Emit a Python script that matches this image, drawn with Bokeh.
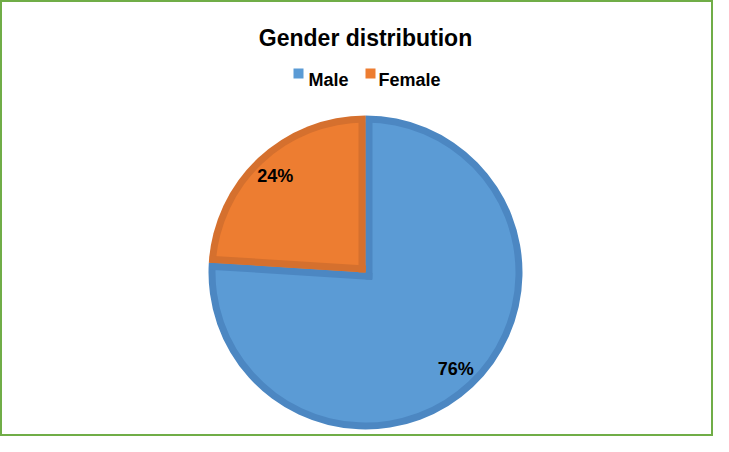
import math
from bokeh.plotting import figure
from bokeh.models import Range1d, ColumnDataSource
from bokeh.core.properties import value
from bokeh.embed import file_html
from bokeh.resources import INLINE

# ---- data ----
title_text = "Gender distribution"
categories = ["Male", "Female"]
values = [76, 24]
fill_colors = ["#5B9BD5", "#ED7D31"]
edge_colors = ["#4C87C2", "#D5702E"]

# ---- layout ----
W, H = 713, 436
FONT = value("Liberation Sans")


def X(rx):
    return rx


def Y(ry):
    return H - ry


p = figure(width=W, height=H, x_range=Range1d(0, W), y_range=Range1d(0, H),
           output_backend="svg", toolbar_location=None, min_border=0,
           x_axis_location=None, y_axis_location=None, title=None)
p.grid.visible = False
p.background_fill_color = "white"
p.border_fill_color = "white"
p.outline_line_color = "#70AD47"
p.outline_line_width = 3

# pie geometry (border drawn inside each slice)
cx, cy = X(365), Y(272)
R = 157
bw = 7
label_r = 132

total = sum(values)
cum = 0
starts, ends, lx, ly, labels = [], [], [], [], []
sx0, sy0, sx1, sy1, scol = [], [], [], [], []
for v, ec in zip(values, edge_colors):
    s = math.pi / 2 - 2 * math.pi * cum / total
    e = math.pi / 2 - 2 * math.pi * (cum + v) / total
    mid = (s + e) / 2
    span = s - e
    starts.append(s)
    ends.append(e)
    lx.append(cx + label_r * math.cos(mid))
    ly.append(cy + label_r * math.sin(mid))
    labels.append(f"{round(100 * v / total)}%")
    ext = bw if span > math.pi else 0
    L = math.sqrt(R * R - bw * bw) - 0.5
    # edge at angle s: slice lies clockwise of it -> inward normal = angle s - 90deg
    # edge at angle e: slice lies counterclockwise -> inward normal = angle e + 90deg
    for ang, nrm in ((s, s - math.pi / 2), (e, e + math.pi / 2)):
        ox = cx + (bw / 2) * math.cos(nrm)
        oy = cy + (bw / 2) * math.sin(nrm)
        sx0.append(ox - ext * math.cos(ang))
        sy0.append(oy - ext * math.sin(ang))
        sx1.append(ox + L * math.cos(ang))
        sy1.append(oy + L * math.sin(ang))
        scol.append(ec)
    cum += v

src = ColumnDataSource(dict(start=starts, end=ends, fill=fill_colors,
                            edge=edge_colors, lx=lx, ly=ly, label=labels,
                            cat=categories))

# outer wedge in border colour
p.wedge(x=cx, y=cy, radius=R, start_angle="start", end_angle="end",
        direction="clock", fill_color="edge", line_color=None, source=src)
# inner fill
p.wedge(x=cx, y=cy, radius=R - bw, start_angle="start", end_angle="end",
        direction="clock", fill_color="fill", line_color=None, source=src)
# radial borders
p.segment(x0=sx0, y0=sy0, x1=sx1, y1=sy1, line_color=scol, line_width=bw,
          line_cap="butt")

p.text(x="lx", y="ly", text="label", source=src, text_align="center",
       text_baseline="middle", text_font=FONT, text_font_style="bold",
       text_font_size="18px", text_color="black")

# title
p.text(x=[X(365)], y=[Y(37)], text=[title_text], text_align="center",
       text_baseline="alphabetic", text_font=FONT, text_font_style="bold",
       text_font_size="23px", text_color="black")

# legend (manual)
leg = ColumnDataSource(dict(sx=[X(298), X(370)], sy=[Y(73)] * 2,
                            tx=[X(308), X(378)], ty=[Y(79)] * 2,
                            fill=fill_colors, cat=categories))
p.rect(x="sx", y="sy", width=10, height=10, fill_color="fill",
       line_color=None, source=leg)
p.text(x="tx", y="ty", text="cat", source=leg, text_align="left",
       text_baseline="alphabetic", text_font=FONT, text_font_style="bold",
       text_font_size="18px", text_color="black")

open("out.html", "w").write(file_html(p, INLINE))
